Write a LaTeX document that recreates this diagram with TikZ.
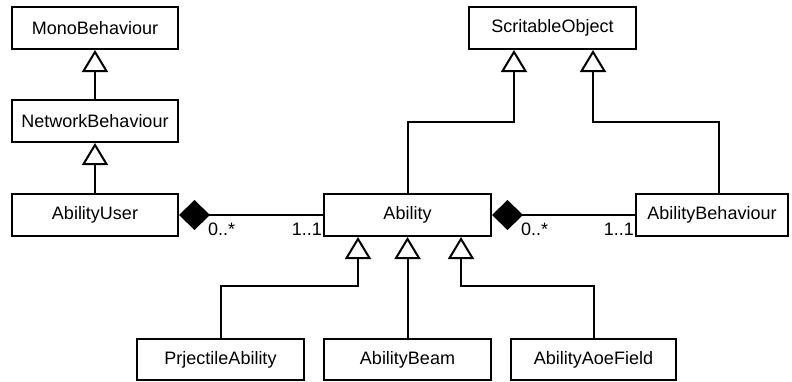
\documentclass[tikz,border=0pt]{standalone}
\usepackage{fontspec}
\setmainfont{Liberation Sans}
\usetikzlibrary{arrows.meta}
\begin{document}
\begin{tikzpicture}[x=1pt,y=-1pt,
  cls/.style={draw=black, line width=2pt, fill=white, minimum height=42pt, inner sep=0pt, font=\fontsize{18}{21}\selectfont},
  inh/.style={line width=2pt, -{Triangle[open, length=22pt, width=26pt]}},
  comp/.style={line width=2pt, {Diamond[length=31pt, width=30pt]}-},
  lbl/.style={font=\fontsize{18}{21}\selectfont, inner sep=0pt}]
\useasboundingbox (0,0) rectangle (792,381);

% classes
\node[cls, minimum width=166pt] (mono) at (95,28) {MonoBehaviour};
\node[cls, minimum width=166pt] (net) at (95,121) {NetworkBehaviour};
\node[cls, minimum width=166pt] (user) at (95,215) {AbilityUser};
\node[cls, minimum width=167pt] (scr) at (552.5,28) {ScritableObject};
\node[cls, minimum width=167pt] (ability) at (407.5,215) {Ability};
\node[cls, minimum width=152pt] (abeh) at (712,215) {AbilityBehaviour};
\node[cls, minimum width=167pt, minimum height=41pt] (proj) at (220.5,359.5) {PrjectileAbility};
\node[cls, minimum width=167pt, minimum height=41pt] (beam) at (407.5,359.5) {AbilityBeam};
\node[cls, minimum width=165pt, minimum height=41pt] (aoe) at (593.5,359.5) {AbilityAoeField};

% helper x positions
\coordinate (x514) at (514,0);
\coordinate (x593) at (593,0);
\coordinate (x719) at (719,0);
\coordinate (x358) at (358,0);
\coordinate (x461) at (461,0);

% inheritance
\draw[inh] (net.north) -- (mono.south);
\draw[inh] (user.north) -- (net.south);
\draw[inh] (ability.north) |- (514,122) -- (scr.south -| x514);
\draw[inh] (abeh.north -| x719) |- (593,122) -- (scr.south -| x593);
\draw[inh] (proj.north) |- (358,286) -- (ability.south -| x358);
\draw[inh] (beam.north) -- (ability.south);
\draw[inh] (aoe.north) |- (461,286) -- (ability.south -| x461);

% composition
\draw[comp] (user.east) -- (ability.west);
\draw[comp] (ability.east) -- (abeh.west);

% multiplicities
\node[lbl, anchor=west] (m1) at (208,229) {0..*};
\node[lbl, anchor=east] (m2) at (322,229) {1..1};
\node[lbl, anchor=west] (m3) at (521,229) {0..*};
\node[lbl, anchor=east] (m4) at (634,229) {1..1};
\end{tikzpicture}
\end{document}
